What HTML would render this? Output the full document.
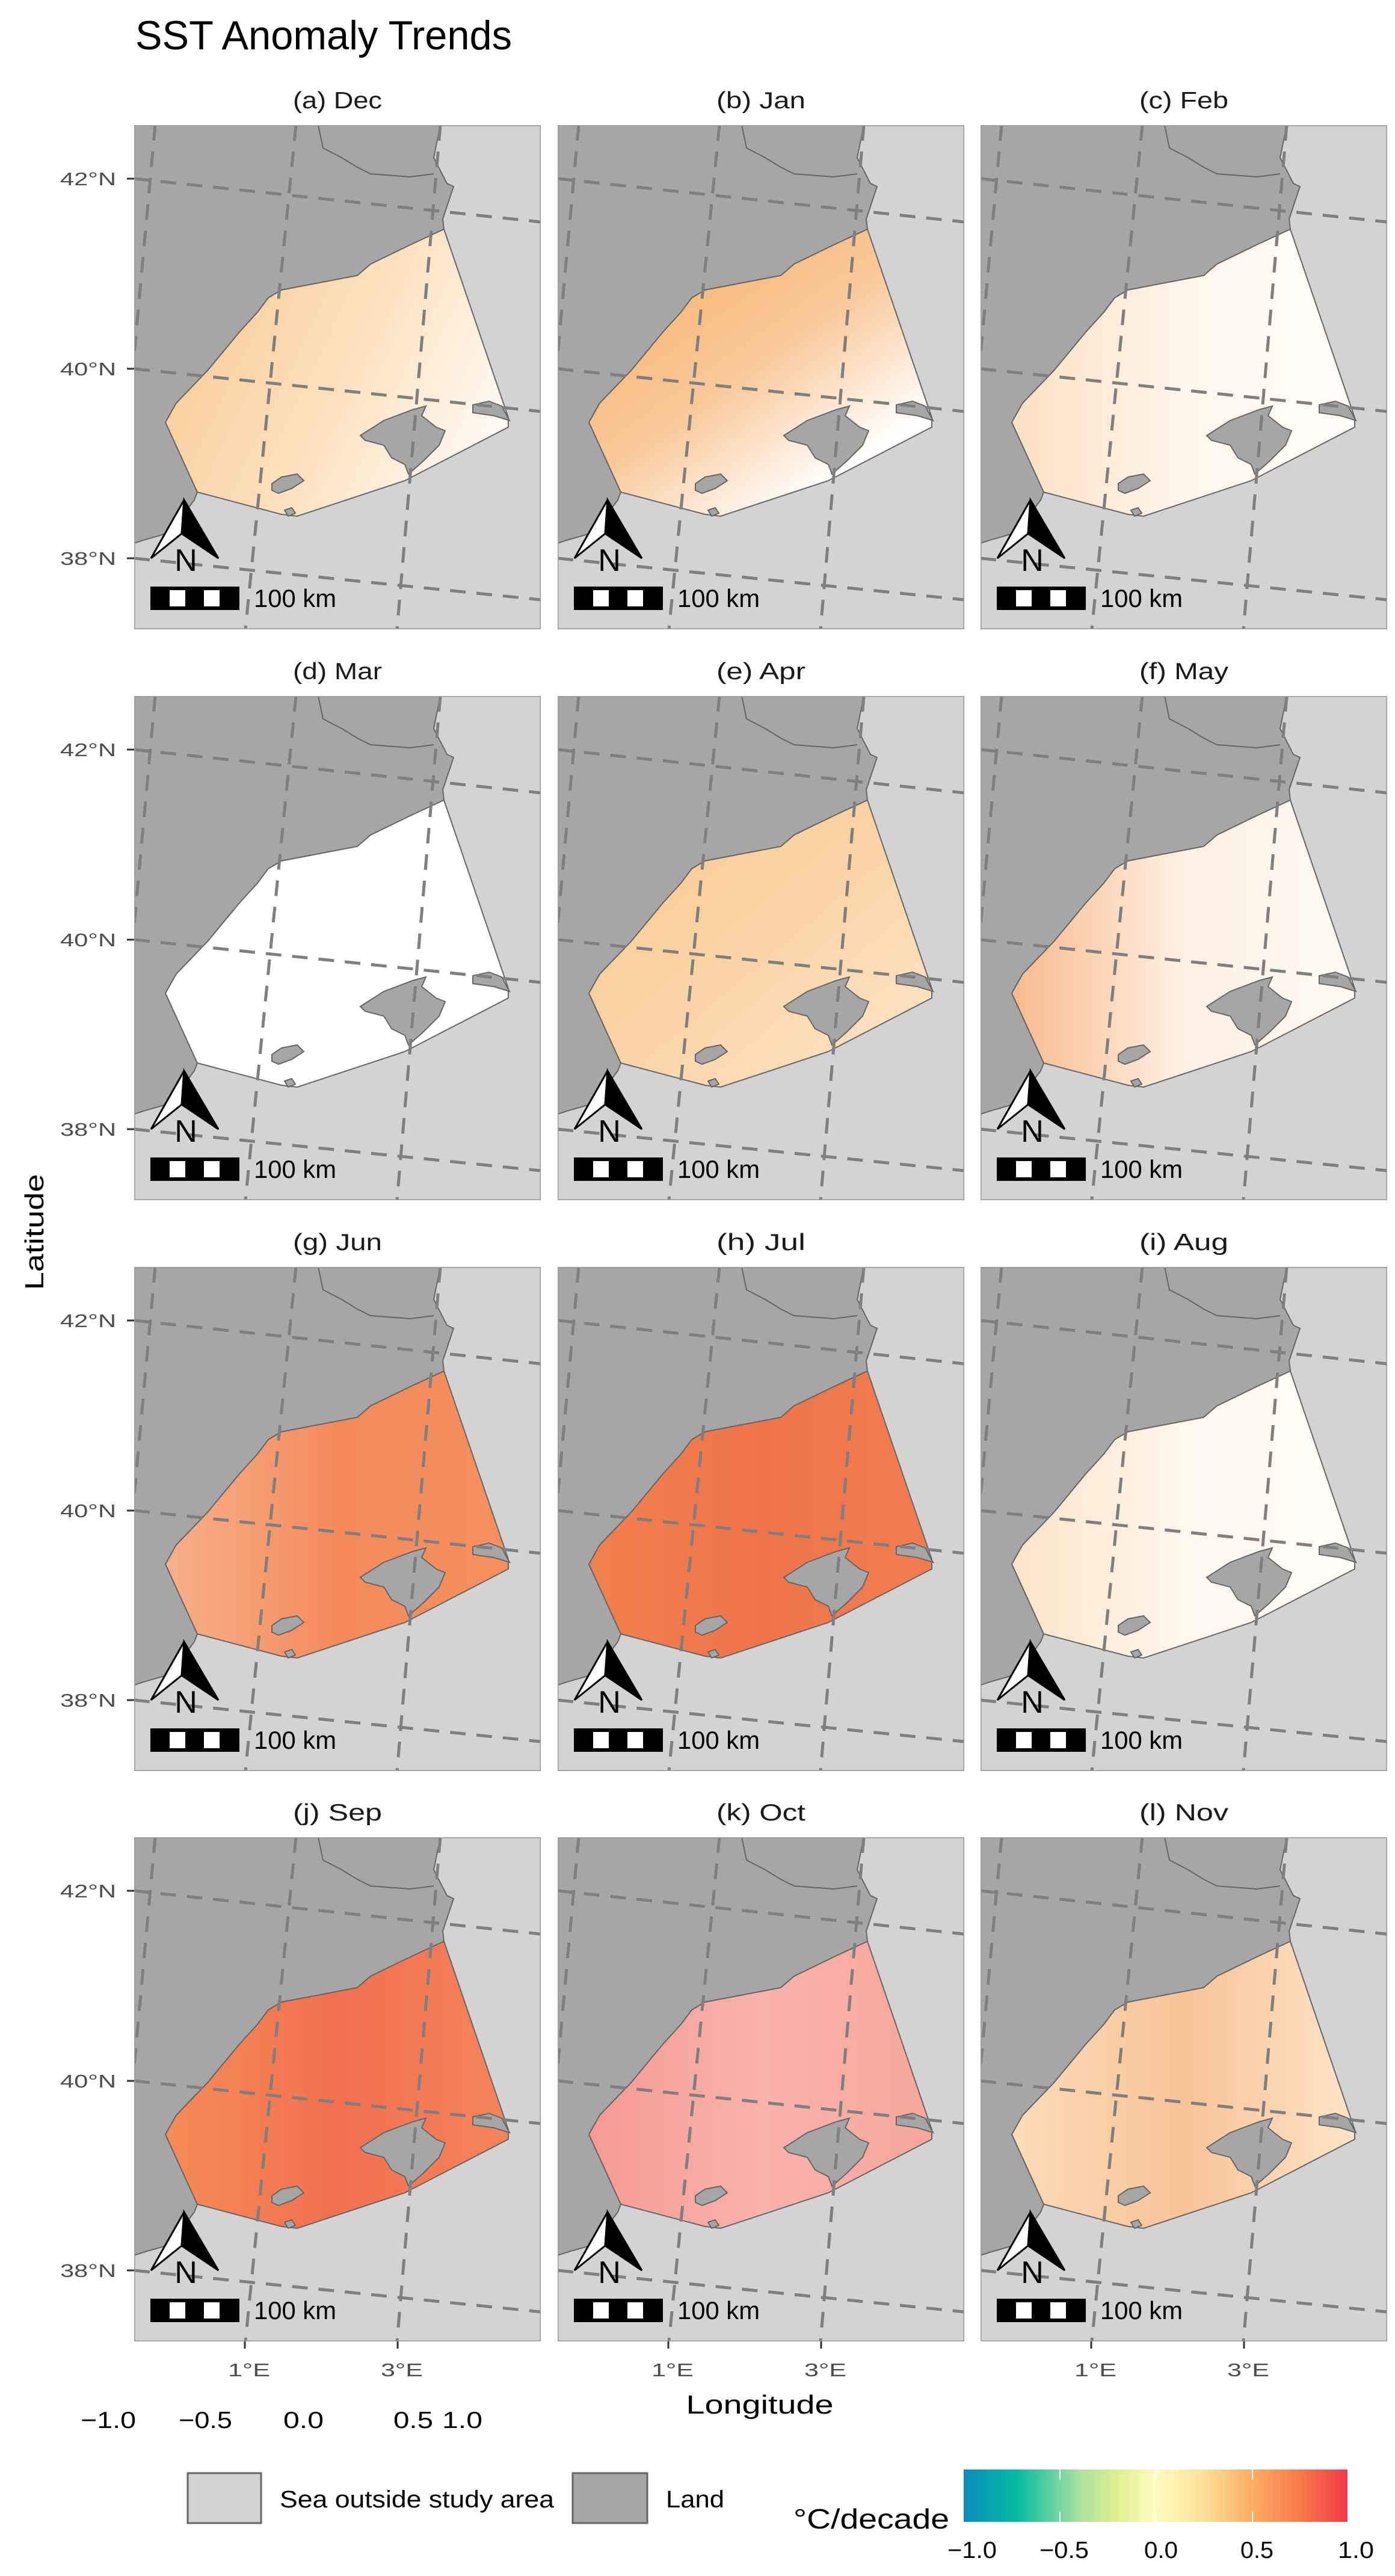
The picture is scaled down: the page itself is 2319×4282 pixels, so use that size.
<!DOCTYPE html>
<html><head><meta charset="utf-8">
<style>
html,body{margin:0;padding:0;background:#fff;}
svg{display:block;}
text{font-family:"Liberation Sans",sans-serif;}
</style></head>
<body>
<svg id="s" xmlns="http://www.w3.org/2000/svg" width="2319" height="4282" viewBox="0 0 2319 4282">
<defs>
<linearGradient id="cb" x1="0" x2="1" y1="0" y2="0">
<stop offset="0" stop-color="#0a8cc0"/><stop offset="0.14" stop-color="#05bca0"/>
<stop offset="0.3" stop-color="#a8e0a0"/><stop offset="0.4" stop-color="#dff08e"/>
<stop offset="0.5" stop-color="#fdfcc0"/><stop offset="0.62" stop-color="#fde29a"/>
<stop offset="0.75" stop-color="#fcae62"/><stop offset="0.88" stop-color="#f87848"/>
<stop offset="1" stop-color="#f23a4a"/>
</linearGradient>
</defs>
<text x="225" y="82" font-size="68" textLength="626" lengthAdjust="spacingAndGlyphs" fill="#000">SST Anomaly Trends</text>
<g id="panels"></g>
<text transform="translate(72,2048) rotate(-90)" text-anchor="middle" font-size="44" textLength="193" lengthAdjust="spacingAndGlyphs" fill="#000">Latitude</text>
<text x="1263" y="4012" text-anchor="middle" font-size="44" textLength="245" lengthAdjust="spacingAndGlyphs" fill="#000">Longitude</text>
<g font-size="39" fill="#000">
<text x="134" y="4036" textLength="92" lengthAdjust="spacingAndGlyphs">−1.0</text>
<text x="297" y="4036" textLength="89" lengthAdjust="spacingAndGlyphs">−0.5</text>
<text x="471" y="4036" textLength="67" lengthAdjust="spacingAndGlyphs">0.0</text>
<text x="654" y="4036" textLength="66" lengthAdjust="spacingAndGlyphs">0.5</text>
<text x="735" y="4036" textLength="67" lengthAdjust="spacingAndGlyphs">1.0</text>
</g>
<rect x="312" y="4111" width="122" height="83" fill="#d3d3d3" stroke="#666" stroke-width="3"/>
<text x="465" y="4168" font-size="40" textLength="456" lengthAdjust="spacingAndGlyphs" fill="#000">Sea outside study area</text>
<rect x="952" y="4111" width="124" height="83" fill="#a6a6a6" stroke="#666" stroke-width="3"/>
<text x="1107" y="4168" font-size="40" textLength="97" lengthAdjust="spacingAndGlyphs" fill="#000">Land</text>
<text x="1319" y="4203" font-size="46" textLength="259" lengthAdjust="spacingAndGlyphs" fill="#000">°C/decade</text>
<rect x="1602" y="4105" width="638" height="87" fill="url(#cb)"/>
<g stroke="#fff" stroke-width="2">
<line x1="1762" y1="4105" x2="1762" y2="4122"/><line x1="1762" y1="4175" x2="1762" y2="4192"/>
<line x1="1921" y1="4105" x2="1921" y2="4122"/><line x1="1921" y1="4175" x2="1921" y2="4192"/>
<line x1="2082" y1="4105" x2="2082" y2="4122"/><line x1="2082" y1="4175" x2="2082" y2="4192"/>
</g>
<g font-size="39" fill="#000">
<text x="1575" y="4252" textLength="82" lengthAdjust="spacingAndGlyphs">−1.0</text>
<text x="1728" y="4252" textLength="82" lengthAdjust="spacingAndGlyphs">−0.5</text>
<text x="1902" y="4252" textLength="56" lengthAdjust="spacingAndGlyphs">0.0</text>
<text x="2062" y="4252" textLength="55" lengthAdjust="spacingAndGlyphs">0.5</text>
<text x="2224" y="4252" textLength="60" lengthAdjust="spacingAndGlyphs">1.0</text>
</g>
</svg>
<script>
(function(){
var NS="http://www.w3.org/2000/svg";
var g=document.getElementById("panels");
var defs=document.querySelector("defs");
var cols=[223,927,1630], rows=[208,1157,2106,3054], W=676,H=838;
var names=["(a) Dec","(b) Jan","(c) Feb","(d) Mar","(e) Apr","(f) May","(g) Jun","(h) Jul","(i) Aug","(j) Sep","(k) Oct","(l) Nov"];
// gradient: [x1,y1,x2,y2, c0,c1,c2]
var fills=[
[0,0.3,1,0.7,"#f9cb94","#fce0bd","#fffaf4"],
[0.1,0.2,0.7,0.9,"#f7b574","#f9c99a","#ffffff"],
[0,0.5,1,0.5,"#fbe0c2","#fff5ea","#fffdfb"],
[0,0,1,1,"#ffffff","#ffffff","#ffffff"],
[0,0,1,1,"#f9c88e","#fbd4a6","#fde6cb"],
[0,0.5,1,0.5,"#f8b98c","#fef0e2","#fff9f3"],
[0,0.5,1,0.5,"#f8b08a","#f48a5c","#f5905e"],
[0,0.5,1,0.5,"#f2804e","#f0744a","#f27d50"],
[0,0.5,1,0.5,"#fbe4c8","#fff6ec","#fffcf8"],
[0,0.5,1,0.5,"#f58c56","#f27050","#f4845a"],
[0,0.5,1,0.5,"#f69a92","#f8b2ac","#f7a69a"],
[0,0.5,1,0.5,"#fcdcb8","#f8c396","#fde4c8"]
];
var study="515,173 622,486 622,502 450,591 271,650 245,647 105,610 52,494 70,462 122,408 175,344 205,311 223,287 245,274 371,250 393,231 459,199";
var land="0,0 509,0 498,54 520,97 531,102 513,156 515,173 459,199 393,231 371,250 245,274 223,287 205,311 175,344 122,408 70,462 52,494 105,610 100,623 80,650 50,680 15,690 0,695";
var mall="376,516 415,491 463,473 485,467 478,483 502,502 517,508 507,532 480,559 456,580 450,564 428,553 415,532 384,524";
var meno="563,465 590,459 611,467 624,491 598,483 563,478";
var ibiza="229,596 245,585 271,580 282,591 262,604 240,612 229,607";
var form="250,640 262,636 268,645 256,650";
var border="306,0 314,38 345,54 371,70 393,81 459,86 498,81";
function el(n,a,p){var e=document.createElementNS(NS,n);for(var k in a)e.setAttribute(k,a[k]);(p||g).appendChild(e);return e;}
for(var i=0;i<12;i++){
 var r=Math.floor(i/3),c=i%3,X=cols[c],Y=rows[r],f=fills[i];
 var gr=el("linearGradient",{id:"f"+i,x1:f[0],y1:f[1],x2:f[2],y2:f[3]},defs);
 el("stop",{offset:"0","stop-color":f[4]},gr);el("stop",{offset:"0.5","stop-color":f[5]},gr);el("stop",{offset:"1","stop-color":f[6]},gr);
 var cp=el("clipPath",{id:"c"+i},defs);el("rect",{x:0,y:0,width:W,height:H},cp);
 el("text",{x:X+W/2,y:Y-28,"text-anchor":"middle","font-size":"39",fill:"#1a1a1a",textLength:"148",lengthAdjust:"spacingAndGlyphs"}).textContent=names[i];
 var p=el("g",{transform:"translate("+X+","+Y+")"});
 var q=el("g",{"clip-path":"url(#c"+i+")"},p);
 el("rect",{x:0,y:0,width:W,height:H,fill:"#d3d3d3"},q);
 el("polygon",{points:land,fill:"#a6a6a6",stroke:"#666","stroke-width":"2"},q);
 el("polygon",{points:study,fill:"url(#f"+i+")",stroke:"#666","stroke-width":"2"},q);
 [mall,meno,ibiza,form].forEach(function(s){el("polygon",{points:s,fill:"#a6a6a6",stroke:"#666","stroke-width":"2"},q);});
 el("polyline",{points:border,fill:"none",stroke:"#666","stroke-width":"2"},q);
 var ds={stroke:"#7f7f7f","stroke-width":"5","stroke-dasharray":"26 18",fill:"none"};
 [[0,89,676,161],[0,405,676,476],[0,720,676,789],[35,0,-42,838],[269,0,185,838],[509,0,437,838]].forEach(function(l){
   var a={x1:l[0],y1:l[1],x2:l[2],y2:l[3]};for(var k in ds)a[k]=ds[k];el("line",a,q);});
 // north arrow
 el("polygon",{points:"83,623 28,720 79,679",fill:"#fff",stroke:"#000","stroke-width":"3"},q);
 el("polygon",{points:"83,623 79,679 140,720",fill:"#000",stroke:"#000","stroke-width":"3"},q);
 el("text",{x:"86",y:"741","font-size":"52","text-anchor":"middle",fill:"#000"},q).textContent="N";
 // scale bar
 el("rect",{x:27,y:767,width:148,height:39,fill:"#000"},q);
 el("rect",{x:59,y:773,width:26,height:27,fill:"#fff"},q);
 el("rect",{x:116,y:773,width:26,height:27,fill:"#fff"},q);
 el("text",{x:"199",y:"801","font-size":"42",fill:"#000",textLength:"137",lengthAdjust:"spacingAndGlyphs"},q).textContent="100 km";
 el("rect",{x:0.75,y:0.75,width:W-1.5,height:H-1.5,fill:"none",stroke:"#9a9a9a","stroke-width":"1.5"},p);
 if(c==0){
  [[89,"42°N"],[405,"40°N"],[720,"38°N"]].forEach(function(t){
   el("line",{x1:-12,y1:t[0],x2:0,y2:t[0],stroke:"#333","stroke-width":"3"},p);
   el("text",{x:-30,y:t[0]+11,"text-anchor":"end","font-size":"31",fill:"#4d4d4d",textLength:"93",lengthAdjust:"spacingAndGlyphs"},p).textContent=t[1];
  });
 }
 if(r==3){
  [[184,"1°E"],[438,"3°E"]].forEach(function(t){
   el("line",{x1:t[0],y1:H,x2:t[0],y2:H+12,stroke:"#333","stroke-width":"3"},p);
   el("text",{x:t[0]+7,y:H+58,"text-anchor":"middle","font-size":"31",fill:"#4d4d4d",textLength:"70",lengthAdjust:"spacingAndGlyphs"},p).textContent=t[1];
  });
 }
}
})();
</script>
</body></html>
